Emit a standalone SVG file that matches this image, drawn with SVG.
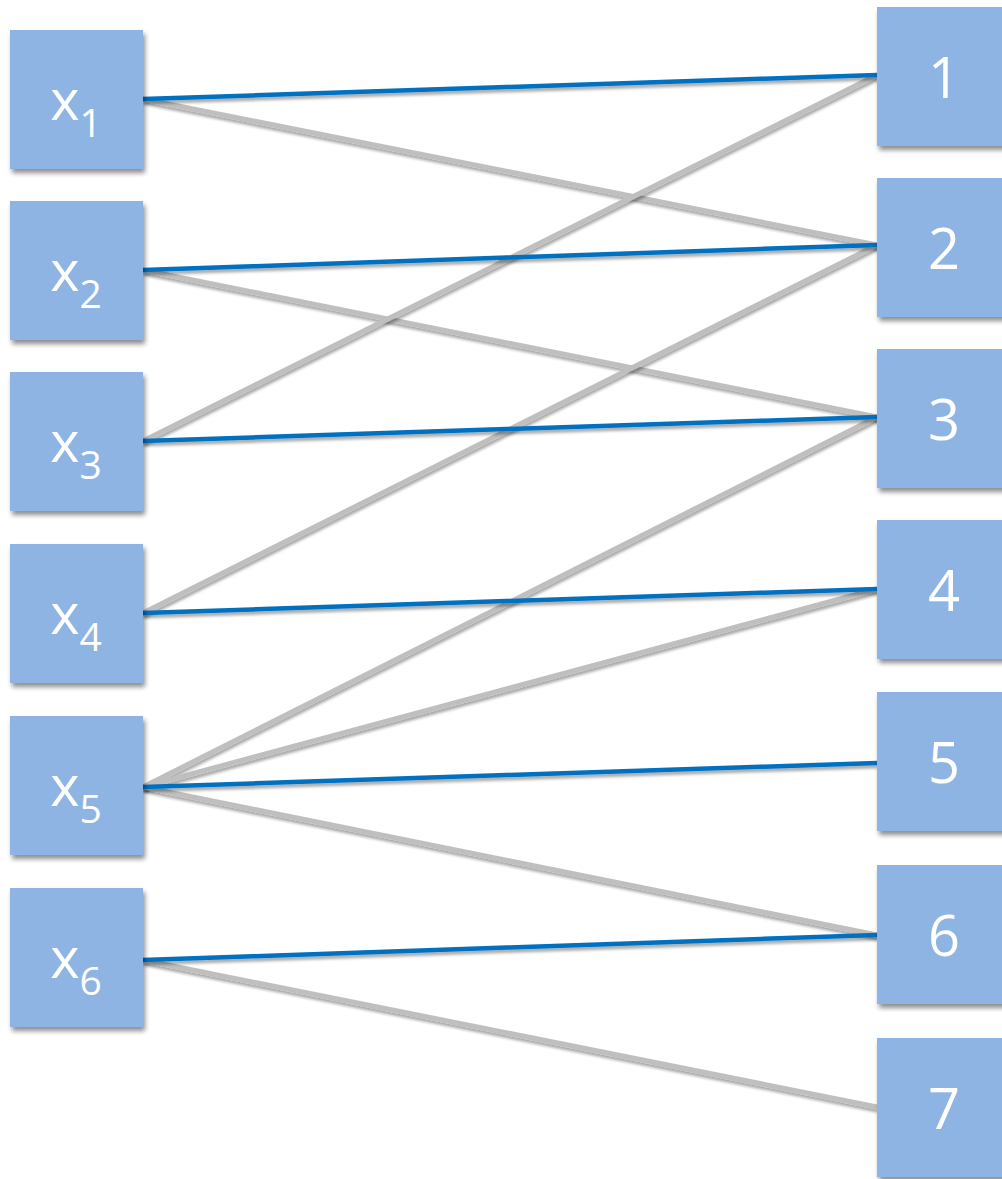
<svg xmlns="http://www.w3.org/2000/svg" width="1002" height="1179" viewBox="0 0 1002 1179">
<defs>
<filter id="sh" x="-20%" y="-20%" width="150%" height="150%">
<feGaussianBlur in="SourceAlpha" stdDeviation="2.5"/>
<feOffset dx="2" dy="4" result="b"/>
<feComponentTransfer><feFuncA type="linear" slope="0.45"/></feComponentTransfer>
<feMerge><feMergeNode/><feMergeNode in="SourceGraphic"/></feMerge>
</filter>
<filter id="lsh" x="-5%" y="-50%" width="110%" height="200%">
<feGaussianBlur in="SourceAlpha" stdDeviation="1.5"/>
<feOffset dx="1" dy="3" result="b"/>
<feComponentTransfer><feFuncA type="linear" slope="0.35"/></feComponentTransfer>
<feMerge><feMergeNode/><feMergeNode in="SourceGraphic"/></feMerge>
</filter>
</defs>
<style>
.box{fill:#8EB4E3;filter:url(#sh)}
.t{font-family:"Open Sans","Noto Sans",sans-serif;fill:#FFFFFF;font-size:56px;text-anchor:middle}
.s{font-size:39px}
.g{stroke:#BFBFBF;stroke-width:5;fill:none;filter:url(#lsh)}
.bl{stroke:#0070C0;stroke-width:4.5;fill:none;filter:url(#lsh)}
</style>
<g id="connectors">
<line class="g" x1="143" y1="99" x2="877" y2="245"/>
<line class="g" x1="143" y1="270" x2="877" y2="417"/>
<line class="g" x1="143" y1="441" x2="877" y2="75"/>
<line class="g" x1="143" y1="613" x2="877" y2="245"/>
<line class="g" x1="143" y1="787" x2="877" y2="417"/>
<line class="g" x1="143" y1="787" x2="877" y2="589"/>
<line class="g" x1="143" y1="787" x2="877" y2="935"/>
<line class="g" x1="143" y1="960" x2="877" y2="1107"/>
<line class="bl" x1="143" y1="99" x2="877" y2="75"/>
<line class="bl" x1="143" y1="270" x2="877" y2="245"/>
<line class="bl" x1="143" y1="441" x2="877" y2="417"/>
<line class="bl" x1="143" y1="613" x2="877" y2="589"/>
<line class="bl" x1="143" y1="787" x2="877" y2="763"/>
<line class="bl" x1="143" y1="960" x2="877" y2="935"/>
</g>
<g id="x1"><rect class="box" x="10" y="30" width="133" height="139"/><text class="t" x="76" y="120">x<tspan class="s" dy="17">1</tspan></text></g>
<g id="x2"><rect class="box" x="10" y="201" width="133" height="139"/><text class="t" x="76" y="291">x<tspan class="s" dy="17">2</tspan></text></g>
<g id="x3"><rect class="box" x="10" y="372" width="133" height="139"/><text class="t" x="76" y="462">x<tspan class="s" dy="17">3</tspan></text></g>
<g id="x4"><rect class="box" x="10" y="544" width="133" height="139"/><text class="t" x="76" y="634">x<tspan class="s" dy="17">4</tspan></text></g>
<g id="x5"><rect class="box" x="10" y="716" width="133" height="139"/><text class="t" x="76" y="806">x<tspan class="s" dy="17">5</tspan></text></g>
<g id="x6"><rect class="box" x="10" y="888" width="133" height="139"/><text class="t" x="76" y="978">x<tspan class="s" dy="17">6</tspan></text></g>
<g id="n1"><rect class="box" x="877" y="7" width="134" height="139"/><text class="t" x="944" y="98">1</text></g>
<g id="n2"><rect class="box" x="877" y="178" width="134" height="139"/><text class="t" x="944" y="269">2</text></g>
<g id="n3"><rect class="box" x="877" y="349" width="134" height="139"/><text class="t" x="944" y="440">3</text></g>
<g id="n4"><rect class="box" x="877" y="520" width="134" height="139"/><text class="t" x="944" y="611">4</text></g>
<g id="n5"><rect class="box" x="877" y="692" width="134" height="139"/><text class="t" x="944" y="783">5</text></g>
<g id="n6"><rect class="box" x="877" y="865" width="134" height="139"/><text class="t" x="944" y="956">6</text></g>
<g id="n7"><rect class="box" x="877" y="1038" width="134" height="139"/><text class="t" x="944" y="1129">7</text></g>
</svg>
